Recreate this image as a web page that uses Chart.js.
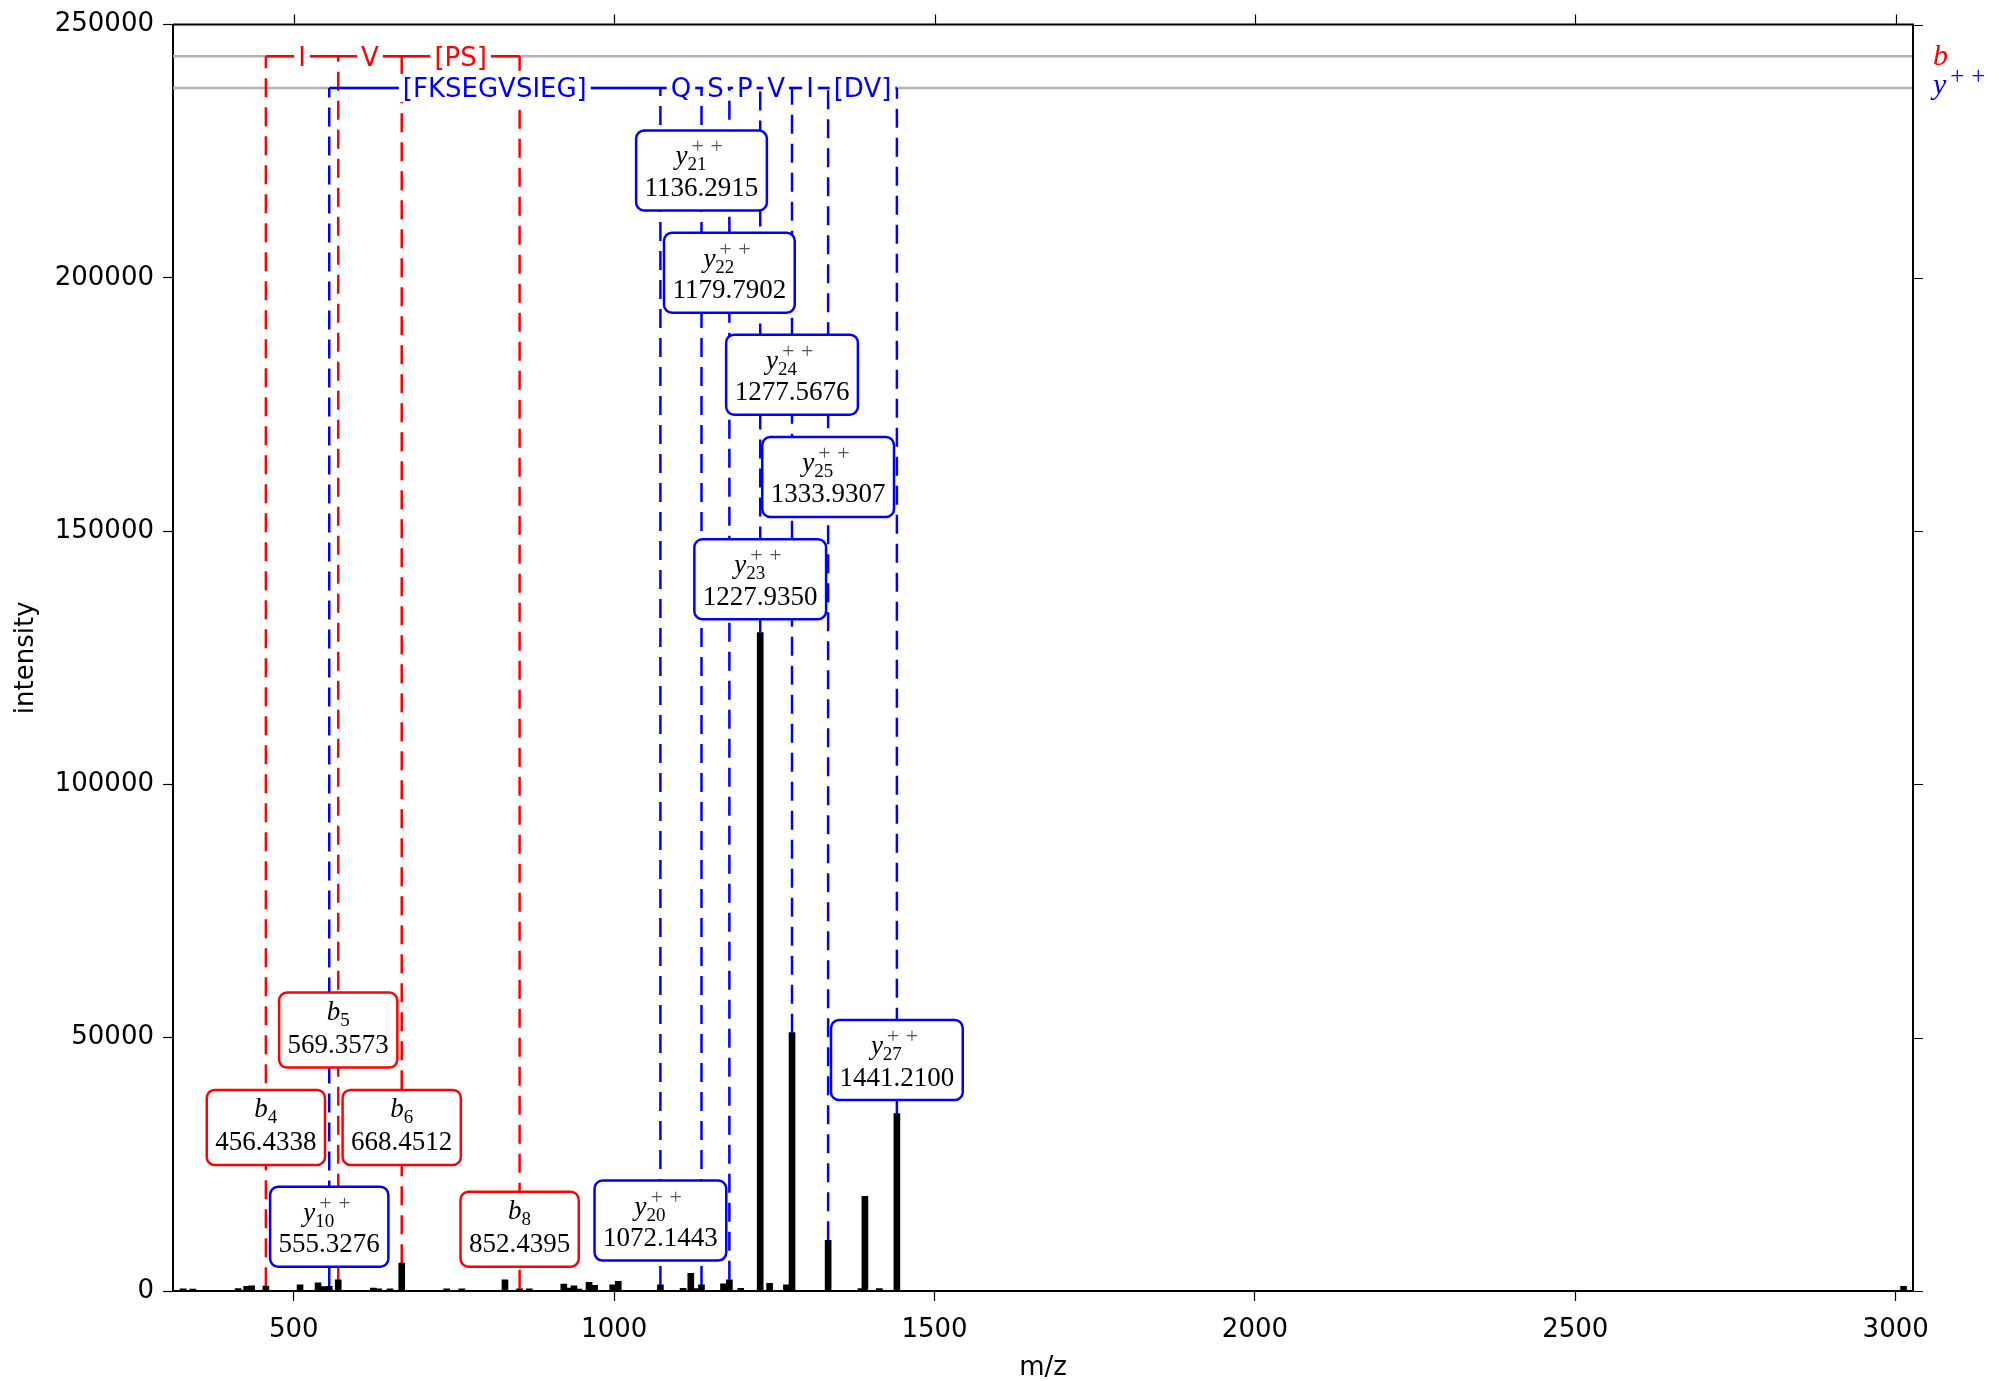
<!DOCTYPE html>
<html>
<head>
<meta charset="utf-8">
<title>Spectrum</title>
<script src="https://cdn.jsdelivr.net/npm/chart.js@4.4.1/dist/chart.umd.min.js"></script>
<style>
    html, body { margin: 0; padding: 0; background: #ffffff; }
    canvas { display: block; }
</style>
</head>
<body>
<canvas id="spectrumChart" width="1999" height="1381"></canvas>
<script>
// peak list
var peakMz = [327.2, 342.5, 413.1, 426.4, 434.3, 456.4338, 509.8, 537.9, 545.8, 555.3276,
    569.3573, 624.1, 632.4, 650.2, 668.4512, 738.6, 762.3, 829.6, 852.4395, 867.5,
    921.4, 929.8, 937.2, 944.9, 960.8, 969.6, 997.7, 1006.4, 1072.1443, 1107.6,
    1119.6, 1127.4, 1136.2915, 1170.6, 1179.7902, 1197.5, 1227.9350, 1242.6, 1268.8, 1277.5676,
    1333.9307, 1385.2, 1391.3, 1413.9, 1441.2100, 3012.3];
var peakIntensity = [450, 400, 500, 900, 1000, 950, 1200, 1600, 850, 900,
    2200, 600, 450, 450, 5500, 450, 450, 2200, 450, 450,
    1350, 600, 1000, 400, 1700, 1100, 1200, 1900, 1200, 550,
    3500, 500, 1200, 1400, 2200, 550, 130000, 1500, 1200, 51000,
    10000, 500, 18700, 500, 35000, 900];

// b ions
var bIonNumbers = [4, 5, 6, 8];
var bIonMz = [456.4338, 569.3573, 668.4512, 852.4395];
var bLabelLevel = [32300, 51500, 32300, 12200];
var bResidues = ['I', 'V', '[PS]'];

// y++ ions
var yIonNumbers = [10, 20, 21, 22, 23, 24, 25, 27];
var yIonMz = [555.3276, 1072.1443, 1136.2915, 1179.7902, 1227.9350, 1277.5676, 1333.9307, 1441.2100];
var yLabelLevel = [12700, 13900, 221200, 201000, 140500, 180900, 160700, 45600];
var yResidues = ['[FKSEGVSIEG]', 'Q', 'S', 'P', 'V', 'I', '[DV]'];

// sequence ladders sit just under the top of the axis
var bLadderLevel = 243750;
var yLadderLevel = 237500;

var mzRange = [311.5, 3027];
var mzTicks = [500, 1000, 1500, 2000, 2500, 3000];
var intensityMax = 250000;

var RED = '#ff0000';
var BLUE = '#0000ff';

function intensityAt(mz) {
    for (var i = 0; i < peakMz.length; i++) {
        if (Math.abs(peakMz[i] - mz) < 1e-6) return peakIntensity[i];
    }
    return 0;
}

// dashed drop lines from each matched peak up to its ladder
function dropLines(ionMz, level) {
    var pts = [];
    ionMz.forEach(function (mz) {
        pts.push({ x: mz, y: intensityAt(mz) });
        pts.push({ x: mz, y: level });
        pts.push({ x: mz, y: null });
    });
    return pts;
}

function roundedBox(ctx, x, y, w, h, r) {
    ctx.beginPath();
    ctx.moveTo(x + r, y);
    ctx.arcTo(x + w, y, x + w, y + h, r);
    ctx.arcTo(x + w, y + h, x, y + h, r);
    ctx.arcTo(x, y + h, x, y, r);
    ctx.arcTo(x, y, x + w, y, r);
    ctx.closePath();
}

function drawPlusPair(ctx, x, base, size, gap, color) {
    ctx.font = size + 'px "Liberation Serif"';
    ctx.fillStyle = color;
    ctx.fillText('+', x, base);
    ctx.fillText('+', x + gap, base);
}

// b_4 / y_21^{++} style ion name
function drawIonName(ctx, cx, base, letter, num, charged) {
    var mainFont = 'italic 27px "Liberation Serif"';
    var subFont = '19px "Liberation Serif"';
    ctx.font = mainFont;
    var lw = ctx.measureText(letter).width;
    ctx.font = subFont;
    var sw = ctx.measureText(String(num)).width;
    var supOff = lw + 4;
    var total = charged ? Math.max(lw + sw, supOff + 32) : lw + sw;
    var x0 = cx - total / 2 - (charged ? 2 : 0);
    ctx.textAlign = 'left';
    ctx.textBaseline = 'alphabetic';
    ctx.fillStyle = '#000000';
    ctx.font = mainFont;
    ctx.fillText(letter, x0, base);
    ctx.font = subFont;
    ctx.fillText(String(num), x0 + lw, base + 6);
    if (charged) drawPlusPair(ctx, x0 + supOff, base - 11, 22, 19, '#555555');
}

function drawIonBox(ctx, cx, cy, letter, num, mz, charged, color) {
    var text = mz.toFixed(4);
    ctx.font = '27px "Liberation Serif"';
    var w = ctx.measureText(text).width + 17;
    var h = charged ? 80 : 75;
    roundedBox(ctx, cx - w / 2, cy - h / 2, w, h, 8);
    ctx.fillStyle = '#ffffff';
    ctx.fill();
    ctx.lineWidth = 2.5;
    ctx.strokeStyle = color;
    ctx.stroke();

    var numBase = cy + h / 2 - 14.5;
    ctx.fillStyle = '#000000';
    ctx.textAlign = 'center';
    ctx.textBaseline = 'alphabetic';
    ctx.fillText(text, cx, numBase);
    drawIonName(ctx, cx, numBase - (charged ? 31.5 : 33), letter, num, charged);
}

function drawResidues(ctx, xs, ys, ionMz, residues, level, color) {
    var py = ys.getPixelForValue(level);
    ctx.font = '26px "DejaVu Sans"';
    ctx.textAlign = 'center';
    ctx.textBaseline = 'alphabetic';
    residues.forEach(function (res, i) {
        var px = (xs.getPixelForValue(ionMz[i]) + xs.getPixelForValue(ionMz[i + 1])) / 2;
        var w = ctx.measureText(res).width;
        ctx.fillStyle = '#ffffff';
        ctx.fillRect(px - w / 2 - 4, py - 14, w + 8, 28);
        ctx.fillStyle = color;
        ctx.fillText(res, px, py + 9.5);
    });
}

var annotationPlugin = {
    id: 'ionAnnotations',
    afterDatasetsDraw: function (chart) {
        var ctx = chart.ctx;
        var xs = chart.scales.x;
        var ys = chart.scales.y;
        var area = chart.chartArea;
        ctx.save();

        drawResidues(ctx, xs, ys, bIonMz, bResidues, bLadderLevel, RED);
        drawResidues(ctx, xs, ys, yIonMz, yResidues, yLadderLevel, BLUE);

        bIonMz.forEach(function (mz, i) {
            drawIonBox(ctx, xs.getPixelForValue(mz), ys.getPixelForValue(bLabelLevel[i]),
                'b', bIonNumbers[i], mz, false, RED);
        });
        yIonMz.forEach(function (mz, i) {
            drawIonBox(ctx, xs.getPixelForValue(mz), ys.getPixelForValue(yLabelLevel[i]),
                'y', yIonNumbers[i], mz, true, BLUE);
        });

        // top / right frame with outward ticks
        ctx.strokeStyle = '#000000';
        ctx.lineWidth = 2;
        ctx.beginPath();
        ctx.moveTo(area.left, area.top);
        ctx.lineTo(area.right, area.top);
        ctx.lineTo(area.right, area.bottom);
        ctx.stroke();
        ctx.lineWidth = 1.2;
        ctx.beginPath();
        xs.ticks.forEach(function (t) {
            var px = Math.round(xs.getPixelForValue(t.value)) + 0.5;
            ctx.moveTo(px, area.top);
            ctx.lineTo(px, area.top - 10);
        });
        ys.ticks.forEach(function (t) {
            var py = Math.round(ys.getPixelForValue(t.value)) + 0.5;
            ctx.moveTo(area.right, py);
            ctx.lineTo(area.right + 10, py);
        });
        ctx.stroke();

        // ladder names on the right
        var bY = ys.getPixelForValue(bLadderLevel);
        var yY = ys.getPixelForValue(yLadderLevel);
        ctx.textAlign = 'left';
        ctx.textBaseline = 'alphabetic';
        ctx.font = 'italic 30px "Liberation Serif"';
        ctx.fillStyle = RED;
        ctx.fillText('b', area.right + 20, bY + 9);
        ctx.fillStyle = BLUE;
        ctx.fillText('y', area.right + 20, yY + 6);
        ctx.font = 'italic 30px "Liberation Serif"';
        var yw = ctx.measureText('y').width;
        drawPlusPair(ctx, area.right + 20 + yw + 4, yY - 4, 25, 21, BLUE);

        ctx.restore();
    }
};

document.addEventListener("DOMContentLoaded", function () {
    Chart.defaults.font.family = '"DejaVu Sans", sans-serif';
    Chart.defaults.font.size = 26;
    Chart.defaults.color = '#000000';

    var ctx = document.getElementById('spectrumChart').getContext('2d');

    var peaks = peakMz.map(function (mz, i) {
        return { x: mz, y: peakIntensity[i] };
    });

    var spectrumChart = new Chart(ctx, {
        type: 'bar',
        data: {
            datasets: [
                {
                    type: 'bar',
                    label: 'spectrum',
                    data: peaks,
                    backgroundColor: '#000000',
                    borderWidth: 0,
                    barThickness: 6,
                    order: 1
                },
                {
                    type: 'line',
                    label: 'b ladder',
                    data: [{ x: bIonMz[0], y: bLadderLevel }, { x: bIonMz[bIonMz.length - 1], y: bLadderLevel }],
                    borderColor: RED,
                    borderWidth: 2.5,
                    pointRadius: 0,
                    order: 2
                },
                {
                    type: 'line',
                    label: 'y ladder',
                    data: [{ x: yIonMz[0], y: yLadderLevel }, { x: yIonMz[yIonMz.length - 1], y: yLadderLevel }],
                    borderColor: BLUE,
                    borderWidth: 2.5,
                    pointRadius: 0,
                    order: 2
                },
                {
                    type: 'line',
                    label: 'b drops',
                    data: dropLines(bIonMz, bLadderLevel),
                    borderColor: RED,
                    borderWidth: 2.5,
                    borderDash: [19, 10],
                    pointRadius: 0,
                    spanGaps: false,
                    order: 3
                },
                {
                    type: 'line',
                    label: 'y drops',
                    data: dropLines(yIonMz, yLadderLevel),
                    borderColor: BLUE,
                    borderWidth: 2.5,
                    borderDash: [19, 10],
                    pointRadius: 0,
                    spanGaps: false,
                    order: 3
                },
                {
                    type: 'line',
                    label: 'b level',
                    data: [{ x: mzRange[0], y: bLadderLevel }, { x: mzRange[1], y: bLadderLevel }],
                    borderColor: '#b3b3b3',
                    borderWidth: 2.5,
                    pointRadius: 0,
                    order: 4
                },
                {
                    type: 'line',
                    label: 'y level',
                    data: [{ x: mzRange[0], y: yLadderLevel }, { x: mzRange[1], y: yLadderLevel }],
                    borderColor: '#b3b3b3',
                    borderWidth: 2.5,
                    pointRadius: 0,
                    order: 4
                }
            ]
        },
        options: {
            responsive: false,
            devicePixelRatio: 1,
            animation: false,
            events: [],
            layout: { padding: { top: 22, right: 86, left: 0, bottom: 0 } },
            plugins: {
                legend: { display: false },
                tooltip: { enabled: false }
            },
            scales: {
                x: {
                    type: 'linear',
                    offset: false,
                    min: mzRange[0],
                    max: mzRange[1],
                    afterBuildTicks: function (scale) {
                        scale.ticks = mzTicks.map(function (v) { return { value: v }; });
                    },
                    afterFit: function (scale) { scale.height = 90; },
                    ticks: {
                        padding: 14,
                        maxRotation: 0,
                        autoSkip: false,
                        callback: function (v) { return String(v); }
                    },
                    grid: {
                        offset: false,
                        drawOnChartArea: false,
                        tickLength: 10,
                        tickColor: '#000000',
                        tickWidth: 1.2
                    },
                    border: { display: true, color: '#000000', width: 2 },
                    title: { display: true, text: 'm/z', padding: { top: 0, bottom: -3 } }
                },
                y: {
                    type: 'linear',
                    min: 0,
                    max: intensityMax,
                    afterFit: function (scale) { scale.width = 173; },
                    ticks: {
                        stepSize: 50000,
                        padding: 9,
                        callback: function (v) { return String(v); }
                    },
                    grid: {
                        drawOnChartArea: false,
                        tickLength: 10,
                        tickColor: '#000000',
                        tickWidth: 1.2
                    },
                    border: { display: true, color: '#000000', width: 2 },
                    title: { display: true, text: 'intensity', padding: { top: 11, bottom: 0 } }
                }
            }
        },
        plugins: [annotationPlugin]
    });
});
</script>
</body>
</html>
